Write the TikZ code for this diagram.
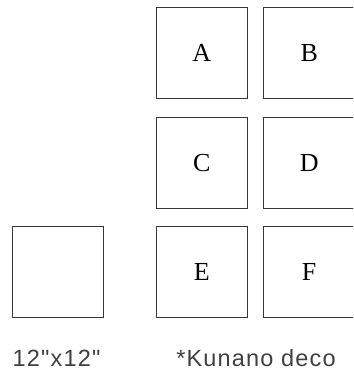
\documentclass[tikz,border=0pt]{standalone}
\usepackage{fontspec}
\setmainfont{Liberation Serif}
\newfontfamily\capfont[LetterSpace=5]{Liberation Sans}
\begin{document}
\begin{tikzpicture}[x=1pt,y=-1pt,
  tile/.style={draw=black!78,line width=1.4pt,fill=white,minimum width=91pt,minimum height=91pt,inner sep=0pt,anchor=north west,
    font=\fontsize{26}{30}\selectfont, text=black},
  captext/.style={font=\capfont\fontsize{23.5}{28}\selectfont,text=black!75,inner sep=0pt,anchor=base}]
\useasboundingbox (0,0) rectangle (353,374);
\clip (0,0) rectangle (353,374);
\node[tile] (s) at (12,226) {};
\node[tile] (a) at (155.5,7) {A};
\node[tile] (b) at (263,7) {B};
\node[tile] (c) at (155.5,117) {C};
\node[tile] (d) at (263,117) {D};
\node[tile] (e) at (155.5,226) {E};
\node[tile] (f) at (263,226) {F};
\node[captext] (t1) at (56.5,366.5) {12\char34 x12\char34};
\node[captext] (t2) at (256,366.5) {*Kunano deco};
\end{tikzpicture}
\end{document}
